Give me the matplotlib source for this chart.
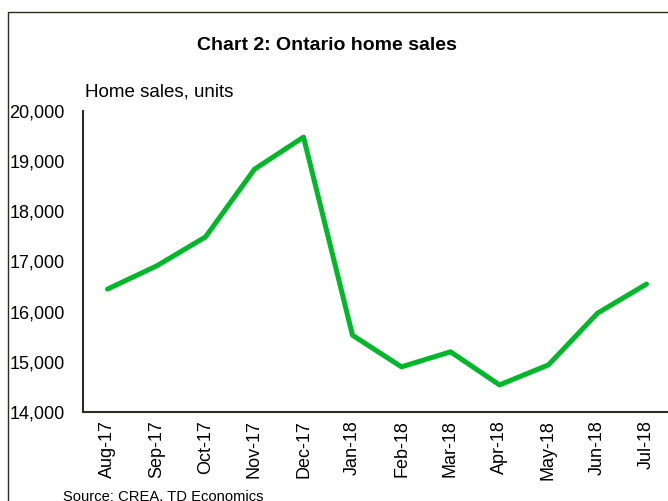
import matplotlib
matplotlib.use("Agg")
import matplotlib.pyplot as plt
from matplotlib.patches import Rectangle

plt.rcParams['font.family'] = ['Liberation Sans', 'DejaVu Sans']

months = ["Aug-17", "Sep-17", "Oct-17", "Nov-17", "Dec-17", "Jan-18",
          "Feb-18", "Mar-18", "Apr-18", "May-18", "Jun-18", "Jul-18"]
sales = [16450, 16910, 17490, 18840, 19480, 15530,
         14900, 15200, 14540, 14940, 15970, 16550]
yticks = [14000, 15000, 16000, 17000, 18000, 19000, 20000]

fig = plt.figure(figsize=(6.68, 5.01), dpi=100)
fig.patch.set_facecolor("white")

# outer frame of the chart box
frame = Rectangle((8 / 668, -0.2), 1.2, 1 - 12 / 501 + 0.2,
                  transform=fig.transFigure, fill=False,
                  edgecolor="#2b2b1f", linewidth=1.0)
fig.patches.append(frame)

ax = fig.add_axes([83 / 668, 1 - 412 / 501, 588 / 668, 301 / 501])
x = list(range(len(months)))
ax.plot(x, sales, color="#00b828", linewidth=3.6, solid_capstyle="round",
        solid_joinstyle="round")

ax.set_xlim(-0.5, len(months) - 0.5)
ax.set_ylim(14000, 20000)
ax.set_yticks(yticks)
ax.set_yticklabels([f"{v:,}" for v in yticks], fontsize=13)
ax.set_xticks(x)
ax.set_xticklabels(months, rotation=90, fontsize=13)
ax.tick_params(axis="y", length=0, pad=13)
ax.tick_params(axis="x", length=0, pad=6)

for side in ("top", "right"):
    ax.spines[side].set_visible(False)
for side in ("left", "bottom"):
    ax.spines[side].set_color("#2b2b1f")
    ax.spines[side].set_linewidth(1.5)

fig.text(327 / 668, 1 - 45 / 501, "Chart 2: Ontario home sales",
         ha="center", va="center", fontsize=14, fontweight="bold")
fig.text(85 / 668, 1 - 92 / 501, "Home sales, units",
         ha="left", va="center", fontsize=13.5)
fig.text(63 / 668, 1 - 497 / 501, "Source: CREA, TD Economics",
         ha="left", va="center", fontsize=10.6)

fig.savefig("out.png", dpi=100)
